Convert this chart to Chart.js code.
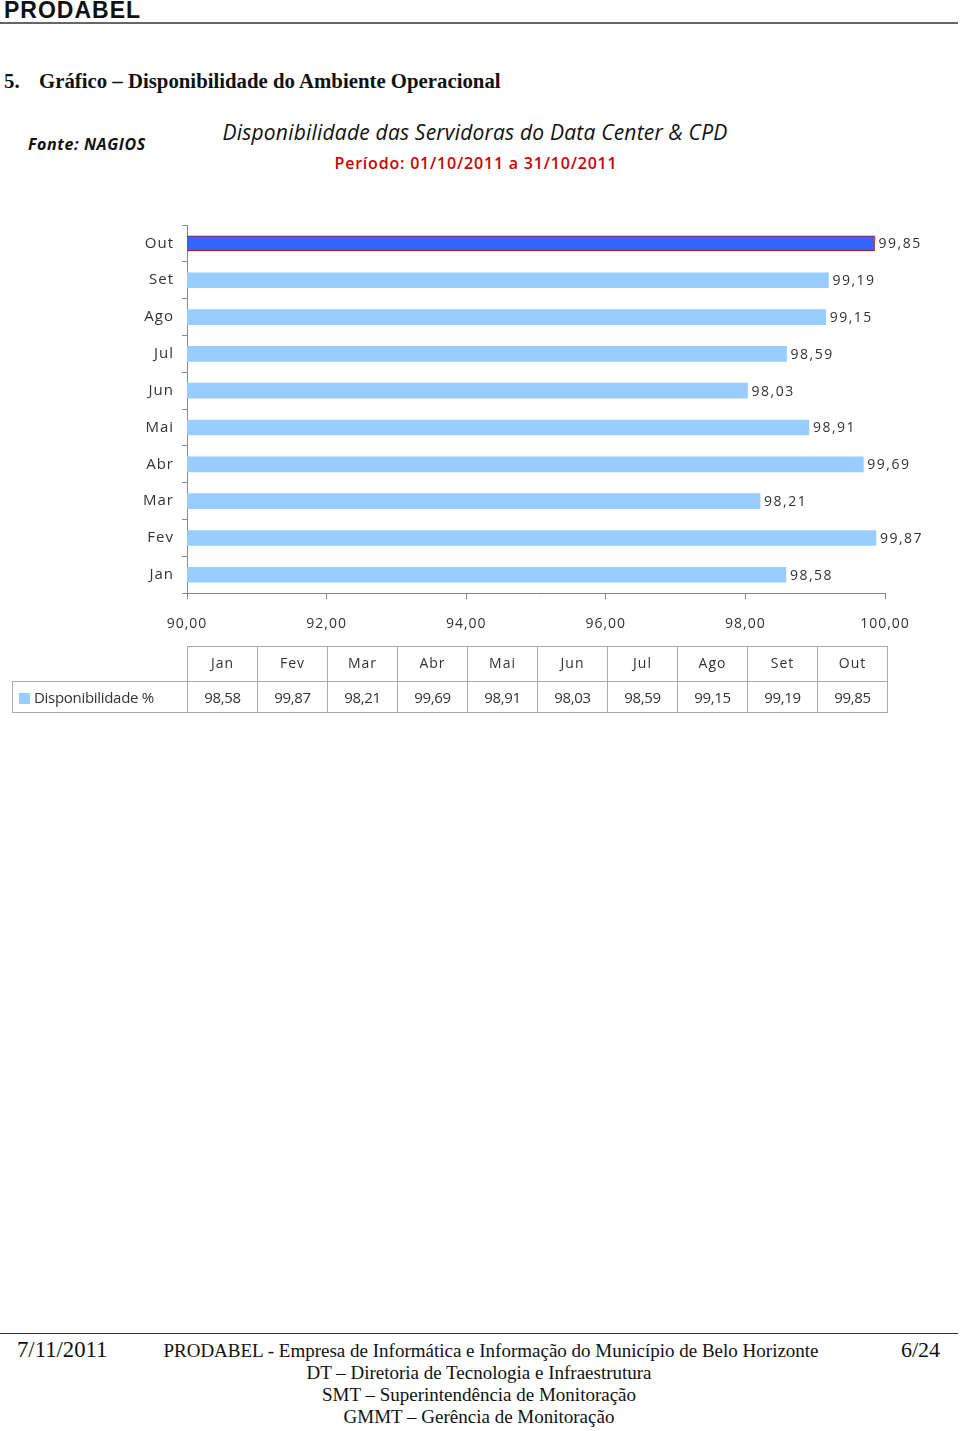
<!DOCTYPE html>
<html>
<head>
<meta charset="utf-8">
<script src="https://cdn.jsdelivr.net/npm/chart.js@4.4.1/dist/chart.umd.min.js"></script>
<style>
  html,body{margin:0;padding:0;background:#fff;}
  body{width:960px;height:1431px;position:relative;overflow:hidden;}
  .abs{position:absolute;white-space:nowrap;}
  #hdr{left:4px;top:-3px;font:bold 23px "Liberation Sans",Arial,sans-serif;color:#111;letter-spacing:1px;}
  #hdrline{left:0;top:22px;width:958px;height:2px;background:#666;}
  #sec{left:4px;top:69px;font:bold 20.8px "Liberation Serif","Times New Roman",serif;color:#111;}
  #sec span{display:inline-block;width:35px;}
  #fonte{left:28px;top:133px;font:italic bold 16px "Open Sans",sans-serif;color:#111;letter-spacing:0.6px;}
  #ttl{left:0;width:950px;text-align:center;top:118px;font:italic 21px "Open Sans",sans-serif;color:#111;letter-spacing:0.2px;}
  #sub{left:0;width:952px;text-align:center;top:152px;font:600 16px "Open Sans",sans-serif;color:#cc0000;letter-spacing:0.8px;}
  #chartwrap{left:0;top:200px;width:960px;height:458px;}
  #tbl{left:12px;top:646px;border-collapse:collapse;font:14px "Open Sans",sans-serif;color:#333;letter-spacing:1px;}
  #tbl td{border:1px solid #aaa;text-align:center;padding:0;}
  #tbl tr.h td{height:31px;padding-bottom:3px;}
  #tbl tr.d td{height:30px;font-size:15px;letter-spacing:-0.3px;}
  #tbl td.lg{width:175px;text-align:left;padding-left:6px;box-sizing:border-box;letter-spacing:1.3px;font-size:15px;}
  #tbl td.blank{border:none;border-right:1px solid #aaa;}
  #tbl td.c{width:69px;}
  .sw{display:inline-block;width:11px;height:11px;background:#99ccff;margin-right:4px;vertical-align:-1px;}
  #ftline{left:0;top:1333px;width:958px;height:1px;background:#333;}
  .ft{font:19px "Liberation Serif","Times New Roman",serif;color:#111;}
  #fdate{left:17px;top:1337px;font-size:22.7px;}
  #fpage{left:901px;top:1337px;font-size:22px;}
  #fl1{left:0;width:982px;text-align:center;top:1340px;line-height:22px;}
  #fc{left:0;width:958px;text-align:center;top:1362px;line-height:22px;}
</style>
</head>
<body>
<div id="hdr" class="abs">PRODABEL</div>
<div id="hdrline" class="abs"></div>
<div id="sec" class="abs"><span>5.</span>Gráfico – Disponibilidade do Ambiente Operacional</div>
<div id="fonte" class="abs">Fonte: NAGIOS</div>
<div id="ttl" class="abs">Disponibilidade das Servidoras do Data Center &amp; CPD</div>
<div id="sub" class="abs">Período: 01/10/2011 a 31/10/2011</div>
<div id="chartwrap" class="abs"><canvas id="c" width="960" height="458"></canvas></div>
<table id="tbl" class="abs"></table>
<div id="ftline" class="abs"></div>
<div id="fdate" class="abs ft">7/11/2011</div>
<div id="fpage" class="abs ft">6/24</div>
<div id="fl1" class="abs ft">PRODABEL - Empresa de Informática e Informação do Município de Belo Horizonte</div>
<div id="fc" class="abs ft">DT – Diretoria de Tecnologia e Infraestrutura<br>SMT – Superintendência de Monitoração<br>GMMT – Gerência de Monitoração</div>

<script>
const months = ["Jan","Fev","Mar","Abr","Mai","Jun","Jul","Ago","Set","Out"];
const availability = [98.58, 99.87, 98.21, 99.69, 98.91, 98.03, 98.59, 99.15, 99.19, 99.85];
const seriesName = "Disponibilidade %";
const xMin = 90, xMax = 100, xStep = 2;

const fmt = v => v.toFixed(2).replace('.', ',');
const light = "#99ccff", dark = "#3366ff";

// data table
const tbl = document.getElementById('tbl');
let h = '<tr class="h"><td class="blank"></td>' + months.map(m => '<td class="c">' + m + '</td>').join('') + '</tr>';
h += '<tr class="d"><td class="lg"><span class="sw"></span>' + seriesName + '</td>' +
     availability.map(v => '<td class="c">' + fmt(v) + '</td>').join('') + '</tr>';
tbl.innerHTML = h;

const spacing = {
  id: 'spacing',
  beforeDraw(chart) { chart.ctx.letterSpacing = '1px'; }
};
const valueLabels = {
  id: 'valueLabels',
  afterDatasetsDraw(chart) {
    const ctx = chart.ctx;
    const meta = chart.getDatasetMeta(0);
    ctx.save();
    ctx.letterSpacing = '1.5px';
    ctx.font = '14px "Open Sans", sans-serif';
    ctx.fillStyle = '#333';
    ctx.textAlign = 'left';
    ctx.textBaseline = 'middle';
    meta.data.forEach((bar, i) => {
      ctx.fillText(fmt(availability[i]), bar.x + 4, bar.y + 1);
    });
    ctx.restore();
  }
};

new Chart(document.getElementById('c'), {
  type: 'bar',
  data: {
    labels: months,
    datasets: [{
      label: seriesName,
      data: availability,
      backgroundColor: months.map((m, i) => i === months.length - 1 ? dark : light),
      borderColor: months.map((m, i) => i === months.length - 1 ? '#cc0000' : light),
      borderWidth: months.map((m, i) => i === months.length - 1 ? 1 : 0),
      barThickness: 15,
      borderSkipped: false
    }]
  },
  options: {
    indexAxis: 'y',
    responsive: false,
    animation: false,
    layout: { padding: { top: 25, right: 75, bottom: 10, left: 0 } },
    plugins: { legend: { display: false }, tooltip: { enabled: false }, title: { display: false } },
    scales: {
      x: {
        min: xMin, max: xMax,
        ticks: { stepSize: xStep, callback: v => fmt(v), color: '#333', padding: 16,
                 font: { family: '"Open Sans", sans-serif', size: 14 }, maxRotation: 0 },
        grid: { drawOnChartArea: false, drawTicks: true, tickLength: 6, color: '#888' },
        border: { display: true, color: '#888' }
      },
      y: {
        reverse: true,
        afterFit: s => { s.width = 187; },
        ticks: { color: '#333', padding: 8, font: { family: '"Open Sans", sans-serif', size: 15 } },
        grid: { drawOnChartArea: false, drawTicks: true, tickLength: 5, color: '#888', offset: true },
        border: { display: true, color: '#888' }
      }
    }
  },
  plugins: [spacing, valueLabels]
});
</script>
</body>
</html>
